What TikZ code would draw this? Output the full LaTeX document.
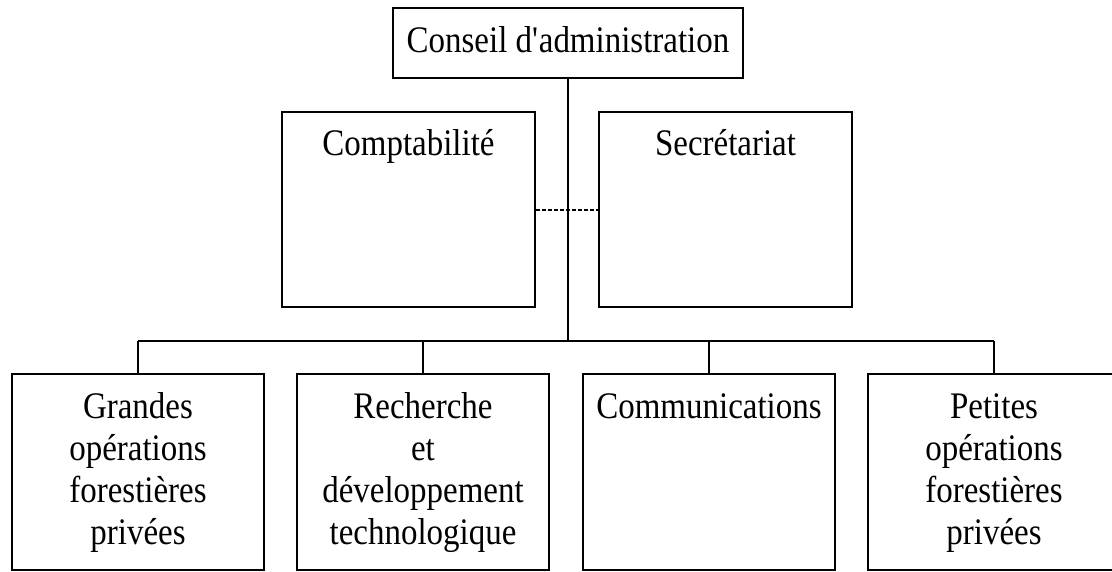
\documentclass[tikz,border=0pt]{standalone}
\usepackage{fontspec}
\setmainfont{Liberation Serif}[FakeStretch=0.88]
\usetikzlibrary{calc}
\newcommand\orgfont{\fontsize{28.1pt}{31.5pt}\selectfont}
\newcommand\orgtext[1]{\parbox[t]{185pt}{\centering #1}}

\begin{document}
\begin{tikzpicture}[x=0.75pt,y=0.75pt,yscale=-1,xscale=1,
    orgbox/.style={draw, line width=1.5pt, rectangle, inner sep=0pt},
    midbox/.style={orgbox, minimum width=189.75pt, minimum height=146.25pt},
    lowbox/.style={orgbox, minimum width=189pt, minimum height=147pt},
    boxtext/.style={anchor=base, inner sep=0pt, font=\orgfont},
    wire/.style={line width=1.5pt},
    dotline/.style={line width=1.5pt, dash pattern=on 3pt off 1.5pt}]
    \useasboundingbox (0,0) rectangle (1112,571);

    %Shape: Rectangle [id:cad]
    \node[orgbox, minimum width=262.5pt, minimum height=52.5pt] (cad) at (568,43) {};

    %Shape: Rectangle [id:compta]
    \node[midbox] (compta) at (408.5,209.5) {};
    %Shape: Rectangle [id:secr]
    \node[midbox] (secr) at (725.5,209.5) {};

    %Shape: Rectangle [id:g1]
    \node[lowbox] (g1) at (138,472) {};
    %Shape: Rectangle [id:g2]
    \node[lowbox] (g2) at (423,472) {};
    %Shape: Rectangle [id:g3]
    \node[lowbox] (g3) at (709,472) {};
    %Shape: Rectangle [id:g4]
    \node[lowbox] (g4) at (994,472) {};

    % Text Node
    \node[boxtext] (cadtxt) at ($(cad.north)+(0,45)$) {Conseil d\textquotesingle administration};
    % Text Node
    \node[boxtext] (comptatxt) at ($(compta.north)+(0,44)$) {\orgtext{Comptabilité}};
    % Text Node
    \node[boxtext] (secrtxt) at ($(secr.north)+(0,44)$) {\orgtext{Secrétariat}};
    % Text Node
    \node[boxtext] (g1txt) at ($(g1.north)+(0,45)$) {\orgtext{Grandes\\opérations\\forestières\\privées}};
    % Text Node
    \node[boxtext] (g2txt) at ($(g2.north)+(0,45)$) {\orgtext{Recherche\\et\\développement\\technologique}};
    % Text Node
    \node[boxtext] (g3txt) at ($(g3.north)+(0,45)$) {\orgtext{Communications}};
    % Text Node
    \node[boxtext] (g4txt) at ($(g4.north)+(0,45)$) {\orgtext{Petites\\opérations\\forestières\\privées}};

    %Straight Lines [trunk and bus]
    \coordinate (bus) at (568,341);
    \draw[wire] (cad.south) -- (bus);
    \draw[wire] (bus -| g1.north) -- (bus -| g4.north);
    \foreach \b in {g1,g2,g3,g4}
        \draw[wire] (bus -| \b.north) -- (\b.north);

    %Straight Lines [dotted link]
    \draw[dotline] (compta.east) -- (secr.west);

\end{tikzpicture}
\end{document}
